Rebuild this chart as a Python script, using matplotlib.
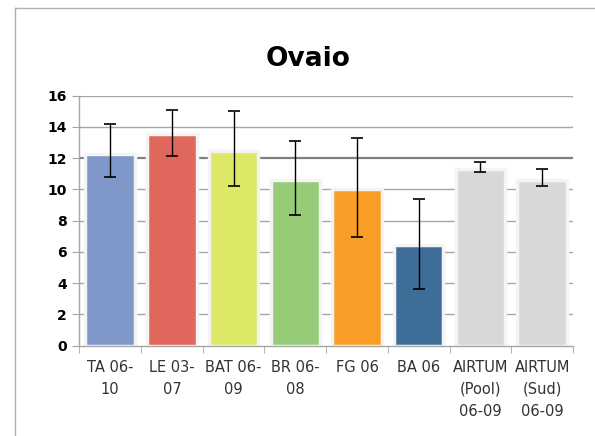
import numpy as np
import matplotlib
matplotlib.use('Agg')
import matplotlib.pyplot as plt
from matplotlib.lines import Line2D

labels = ['TA 06-\n10', 'LE 03-\n07', 'BAT 06-\n09', 'BR 06-\n08', 'FG 06', 'BA 06',
          'AIRTUM\n(Pool)\n06-09', 'AIRTUM\n(Sud)\n06-09']
values = [12.3, 13.55, 12.48, 10.58, 10.05, 6.47, 11.29, 10.63]
err_high = [14.17, 15.08, 15.0, 13.1, 13.29, 9.41, 11.78, 11.29]
err_low = [10.78, 12.14, 10.22, 8.34, 6.96, 3.65, 11.12, 10.22]
colors = ['#7F97C9', '#E0675B', '#DDE866', '#96CB78', '#F99D27', '#3E6E98', '#D8D8D8', '#D8D8D8']
yticks = [0, 2, 4, 6, 8, 10, 12, 14, 16]

fig = plt.figure(figsize=(5.95, 4.36), dpi=100)
ax = fig.add_axes([0.1333, 0.207, 0.8297, 0.5734])

x = np.arange(len(values))
yerr = [np.array(values) - np.array(err_low), np.array(err_high) - np.array(values)]

# gridlines (the 12 one looks heavier in the original)
for yv in yticks[1:]:
    if yv == 12:
        ax.axhline(yv, color='#808080', lw=1.6, zorder=0)
    else:
        ax.axhline(yv, color='#A6A6A6', lw=1, zorder=0)

ax.bar(x, values, width=0.8, color=colors, edgecolor='#F4F4F4', linewidth=2.5, zorder=2)
ax.errorbar(x, values, yerr=yerr, fmt='none', ecolor='black', elinewidth=1,
            capsize=4, capthick=1.2, zorder=3)

ax.set_xlim(-0.5, len(values) - 0.5)
ax.set_ylim(0, 16)
ax.set_yticks(yticks)
ax.set_yticklabels([str(t) for t in yticks], fontsize=10, fontweight='bold')
ax.tick_params(axis='y', length=5, color='#A6A6A6', pad=4)

ax.set_xticks(x)
ax.set_xticklabels(labels, fontsize=10.5, color='#333333', linespacing=1.6, va='top')
ax.tick_params(axis='x', length=0, pad=10)
ax.set_xticks(np.arange(-0.5, len(values)), minor=True)
ax.tick_params(axis='x', which='minor', length=5, color='#A6A6A6')

for side in ['top', 'right']:
    ax.spines[side].set_visible(False)
for side in ['left', 'bottom']:
    ax.spines[side].set_color('#A6A6A6')
    ax.spines[side].set_linewidth(1)

fig.text(0.517, 0.865, 'Ovaio', ha='center', va='center', fontsize=19, fontweight='bold')

# chart frame
fig.add_artist(Line2D([15 / 595, 15 / 595], [0, 1 - 8 / 436], color='#B0B0B0', lw=1))
fig.add_artist(Line2D([15 / 595, 1], [1 - 8 / 436, 1 - 8 / 436], color='#B0B0B0', lw=1))

fig.savefig('out.png', dpi=100)
